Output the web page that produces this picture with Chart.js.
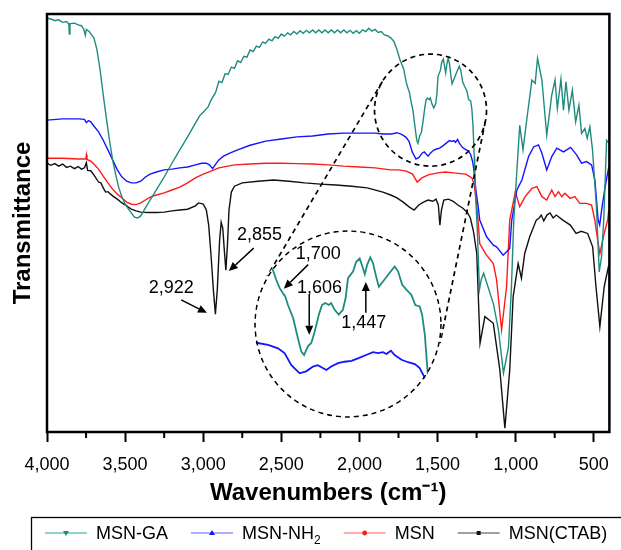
<!DOCTYPE html>
<html>
<head>
<meta charset="utf-8">
<style>
  html, body { margin: 0; padding: 0; background: #fff; }
  #wrap { position: relative; width: 621px; height: 550px; overflow: hidden; }
  #wrap canvas { display: block; }
  #inset { position: absolute; border-radius: 50%; overflow: hidden; background: #fff; }
</style>
</head>
<body>
<div id="wrap">
  <canvas id="ftirChart" width="621" height="550"></canvas>
  <div id="inset"><canvas id="insetChart"></canvas></div>
</div>

<script src="https://cdn.jsdelivr.net/npm/chart.js"></script>
<script>
// FTIR spectra, [wavenumber cm-1, transmittance (arbitrary, 0-100)]
const msnGA = [
  [4000,99.0],[3975,98.8],[3950,98.4],[3925,98.6],[3900,98.0],[3875,98.2],[3860,97.6],[3857,95.2],[3853,97.7],
  [3825,97.8],[3800,97.4],[3780,97.2],[3765,96.4],[3755,94.9],[3748,96.3],[3730,95.8],[3715,95.0],[3700,94.3],
  [3680,91.4],[3660,86.6],[3640,80.6],[3620,75.1],[3600,69.8],[3580,65.1],[3560,61.5],[3540,58.4],[3520,56.2],
  [3500,54.5],[3470,52.9],[3440,51.4],[3420,51.2],[3400,51.7],[3370,53.6],[3340,55.5],[3300,57.9],[3250,61.0],
  [3200,64.3],[3150,67.5],[3100,70.6],[3050,73.9],[3020,75.8],[3000,76.5],[2970,77.7],[2950,79.4],[2920,81.3],
  [2900,83.9],[2880,83.6],[2860,85.7],[2840,85.6],[2820,87.3],[2800,87.0],[2780,88.8],[2760,88.4],[2740,89.9],
  [2720,89.7],[2700,91.4],[2680,91.0],[2660,92.3],[2640,92.0],[2620,93.3],[2600,93.0],[2580,94.0],[2560,93.6],
  [2540,94.6],[2520,94.2],[2500,95.2],[2480,94.7],[2460,95.5],[2440,95.0],[2420,95.8],[2400,95.2],[2380,96.0],
  [2360,95.4],[2340,96.1],[2320,95.5],[2300,96.2],[2280,95.5],[2260,96.2],[2240,95.5],[2220,96.2],[2200,95.5],
  [2180,96.2],[2160,95.5],[2140,96.2],[2120,95.5],[2100,96.2],[2080,95.5],[2060,96.1],[2040,95.4],[2020,96.0],
  [2000,95.4],[1980,96.2],[1960,95.8],[1940,96.6],[1920,95.9],[1900,96.3],[1880,95.6],[1860,95.8],[1840,95.0],
  [1820,94.8],[1800,94.3],[1780,93.5],[1760,91.5],[1740,89.0],
  [1716,86.8],[1706,84.7],[1696,83.0],[1687,82.0],[1680,81.3],[1672,79.5],[1657,76.8],[1643,72.6],[1633,69.8],
  [1625,69.1],[1614,70.9],[1604,71.6],[1594,74.0],[1582,77.5],[1573,79.5],[1563,79.9],[1553,79.5],[1546,79.9],
  [1536,78.5],[1524,77.5],[1512,78.5],[1504,80.9],[1497,85.1],[1482,86.5],[1473,88.5],[1463,89.2],[1455,87.5],
  [1448,85.9],[1441,87.9],[1432,89.4],[1424,88.2],[1414,85.1],[1407,83.3],[1395,84.4],[1380,85.8],[1361,87.5],
  [1351,86.5],[1339,83.7],[1327,82.7],[1312,81.6],[1301,79.5],[1288,79.2],[1281,77.5],[1273,73.3],[1265,65.7],
  [1262,62.9],[1255,55.5],[1245,48.0],[1232,34.0],[1220,36.5],[1205,38.0],[1175,34.5],[1142,30.6],[1110,24.4],
  [1078,14.1],[1046,20.3],[1027,34.7],[1012,50.7],[974,73.4],[953,67.5],[928,75.0],[896,84.2],[875,83.4],
  [860,89.4],[832,84.2],[801,71.0],[769,80.6],[748,84.2],[733,77.4],[710,84.4],[694,77.0],[678,83.8],[659,77.0],
  [637,81.8],[616,74.2],[595,78.2],[578,71.4],[557,72.6],[542,70.3],[525,73.0],[508,67.5],[483,53.9],[465,38.3],
  [450,42.0],[436,50.7],[418,69.8],[404,69.1]
];

const msnNH2 = [
  [4000,74.6],[3900,74.9],[3800,74.9],[3760,74.8],[3748,74.0],[3735,74.5],[3720,74.2],[3700,73.2],[3670,71.8],
  [3640,69.8],[3610,67.5],[3580,65.1],[3550,62.7],[3520,61.0],[3490,60.0],[3460,59.6],[3430,59.6],[3400,60.0],
  [3370,61.0],[3340,61.7],[3300,62.2],[3250,62.7],[3200,62.9],[3150,63.2],[3100,63.4],[3050,63.9],[3010,64.3],
  [2980,64.3],[2960,63.9],[2940,63.0],[2920,64.1],[2900,65.1],[2870,66.0],[2830,66.7],[2780,67.5],[2700,68.6],
  [2600,69.6],[2500,70.1],[2400,70.6],[2300,70.8],[2200,71.3],[2100,71.5],[2000,71.5],[1900,71.5],[1850,71.3],
  [1800,71.3],[1780,71.4],
  [1760,71.6],[1730,71.2],[1701,70.5],[1682,69.5],[1662,67.0],[1638,65.3],[1619,65.7],[1599,66.7],[1585,67.0],
  [1573,66.5],[1560,66.0],[1546,66.7],[1526,67.4],[1507,67.7],[1487,67.9],[1468,68.4],[1448,69.0],[1424,69.7],
  [1409,69.5],[1395,69.7],[1385,69.3],[1372,70.0],[1361,69.1],[1341,68.1],[1322,67.6],[1302,67.2],[1288,66.4],
  [1275,64.6],[1268,62.9],[1255,58.0],[1240,54.0],[1230,50.7],[1186,46.7],[1143,44.7],[1122,44.3],[1080,42.3],
  [1038,43.9],[1025,50.7],[1012,53.5],[992,57.9],[960,60.3],[917,65.9],[885,68.2],[854,68.7],[832,66.7],
  [801,62.7],[769,65.9],[737,67.9],[694,67.0],[648,68.1],[610,66.3],[578,64.3],[546,64.7],[514,63.9],[493,60.3],
  [472,50.7],[462,49.5],[450,53.0],[430,58.0],[404,63.4]
];

const msn = [
  [4000,65.5],[3900,65.5],[3800,65.3],[3752,65.3],[3748,66.3],[3744,65.2],[3720,64.8],[3700,64.1],[3670,62.9],
  [3640,61.2],[3610,59.6],[3580,58.1],[3550,56.9],[3520,56.0],[3490,55.0],[3460,54.5],[3430,54.4],[3400,54.8],
  [3370,55.5],[3340,56.2],[3300,56.7],[3250,57.2],[3200,57.9],[3150,58.6],[3100,59.6],[3050,60.8],[3000,61.7],
  [2950,62.4],[2900,63.2],[2800,63.9],[2700,64.1],[2600,64.3],[2500,64.3],[2400,64.2],[2300,64.1],[2200,63.9],
  [2100,63.6],[2000,63.4],[1900,63.2],[1800,62.7],[1750,62.7],[1700,62.4],[1660,61.7],[1630,59.8],[1600,60.8],
  [1560,61.5],[1500,62.0],[1450,62.2],[1400,62.0],[1320,61.7],[1280,60.8],[1265,59.1],[1250,54.3],[1240,50.2],
  [1230,45.1],[1190,42.5],[1143,40.3],[1122,36.4],[1090,24.4],[1058,34.8],[1038,50.7],[1023,53.5],[1002,57.5],
  [974,53.9],[939,56.3],[896,58.3],[864,58.7],[832,56.3],[801,55.5],[769,57.9],[748,56.3],[726,57.5],[705,56.3],
  [684,57.1],[652,55.9],[621,56.3],[589,54.7],[546,54.7],[514,54.3],[493,50.7],[475,45.9],[461,42.7],[433,47.5],
  [411,50.7],[404,53.1]
];

const msnCTAB = [
  [4000,64.3],[3975,63.8],[3950,64.2],[3925,63.6],[3900,64.1],[3875,63.3],[3850,63.6],[3825,63.0],[3800,63.5],
  [3780,62.9],[3760,63.2],[3748,64.4],[3740,62.6],[3720,62.5],[3700,61.5],[3670,59.8],[3655,59.6],[3640,58.4],
  [3625,57.4],[3610,57.5],[3580,56.5],[3550,55.7],[3520,54.8],[3490,54.1],[3460,53.3],[3430,52.9],[3400,52.6],
  [3350,52.5],[3300,52.5],[3250,52.6],[3200,52.9],[3150,53.1],[3100,53.3],[3050,54.1],[3030,54.8],[3000,54.5],
  [2980,53.1],[2965,49.5],[2950,42.3],[2935,34.0],[2922,28.2],[2910,34.0],[2895,45.9],[2885,50.2],[2875,48.8],
  [2865,43.5],[2855,38.7],[2845,44.7],[2835,53.1],[2820,57.4],[2800,58.8],[2750,59.6],[2650,60.0],[2550,60.3],
  [2450,60.0],[2350,59.6],[2250,59.3],[2150,59.1],[2050,58.8],[1950,58.4],[1850,57.4],[1800,56.7],[1760,56.0],
  [1720,55.0],[1680,53.8],[1650,53.1],[1620,54.3],[1590,55.0],[1560,55.5],[1530,55.2],[1510,55.7],[1495,54.3],
  [1485,49.5],[1475,53.1],[1460,55.5],[1430,55.7],[1400,55.2],[1370,54.3],[1340,53.6],[1310,52.6],[1290,51.2],
  [1270,48.0],[1249,42.7],[1228,21.2],[1197,27.6],[1143,26.0],[1101,14.8],[1069,0.9],[1038,14.8],[1016,32.4],
  [984,40.3],[963,36.8],[942,42.7],[910,46.7],[868,50.7],[850,51.2],[836,51.9],[820,50.5],[800,51.9],[780,52.4],
  [760,51.2],[740,51.9],[698,50.7],[650,49.5],[613,47.5],[580,48.0],[539,47.5],[507,44.3],[486,34.8],[461,25.2],
  [433,34.8],[411,38.7],[404,39.9]
];

const seriesNames = ['MSN-GA', 'MSN-NH2', 'MSN', 'MSN(CTAB)'];
const xRange = [400, 4000];
const yRange = [0, 100];

// peak labels: text position, arrow tail, arrow tip  [wavenumber, transmittance]
const mainPeaks = [
  { text: '2,922', at: [3205, 34.4], from: [3141, 31.6], to: [2976, 28.5] },
  { text: '2,855', at: [2639, 47.1], from: [2677, 44.0], to: [2836, 38.5] }
];
const insetPeaks = [
  { text: '1,700', at: [1584, 90.2], from: [1613, 87.9], to: [1684, 82.9] },
  { text: '1,606', at: [1580, 83.1], from: [1610, 81.8], to: [1610, 73.3] },
  { text: '1,447', at: [1451, 75.8], from: [1445, 77.9], to: [1445, 84.3] }
];

// zoom: small circle on the main plot and the magnified inset
const zoomCentre = [1545, 77.0];
const insetCentre = [2073, 25.8];
const insetWave = [1223, 1771];
const insetT = [56.0, 95.1];

const colors = ['#1f8b7f', '#1414ff', '#ff1a1a', '#111111'];
const lightColors = ['#8fd3ca', '#adadff', '#ffadad', '#a0a0a0'];
const FONT = "'Liberation Sans', Arial, sans-serif";

const toXY = arr => arr.map(p => ({ x: p[0], y: p[1] }));

function arrow(ctx, x1, y1, x2, y2) {
    const a = Math.atan2(y2 - y1, x2 - x1), L = 9, W = 4;
    const bx = x2 - L * Math.cos(a), by = y2 - L * Math.sin(a);
    ctx.beginPath(); ctx.moveTo(x1, y1); ctx.lineTo(bx, by); ctx.stroke();
    ctx.beginPath(); ctx.moveTo(x2, y2);
    ctx.lineTo(bx + W * Math.sin(a), by - W * Math.cos(a));
    ctx.lineTo(bx - W * Math.sin(a), by + W * Math.cos(a));
    ctx.closePath(); ctx.fill();
}

function drawPeaks(chart, peaks) {
    const ctx = chart.ctx, xs = chart.scales.x, ys = chart.scales.y;
    const px = p => [xs.getPixelForValue(p[0]), ys.getPixelForValue(p[1])];
    ctx.save();
    ctx.fillStyle = '#000'; ctx.strokeStyle = '#000'; ctx.lineWidth = 1.5;
    ctx.font = '18px ' + FONT; ctx.textAlign = 'center'; ctx.textBaseline = 'middle';
    peaks.forEach(pk => {
        const t = px(pk.at), f = px(pk.from), e = px(pk.to);
        ctx.fillText(pk.text, t[0], t[1]);
        arrow(ctx, f[0], f[1], e[0], e[1]);
    });
    ctx.restore();
}

function marker(ctx, kind, x, y, color) {
    ctx.fillStyle = color;
    ctx.beginPath();
    if (kind === 0) { ctx.moveTo(x - 3, y - 2); ctx.lineTo(x + 3, y - 2); ctx.lineTo(x, y + 3); }
    else if (kind === 1) { ctx.moveTo(x - 3, y + 2); ctx.lineTo(x + 3, y + 2); ctx.lineTo(x, y - 3); }
    else if (kind === 2) { ctx.arc(x, y, 2.4, 0, Math.PI * 2); }
    else { ctx.rect(x - 2, y - 2, 4, 4); }
    ctx.fill();
}

const decor = {
    id: 'decor',
    afterDraw(chart) {
        const ctx = chart.ctx, a = chart.chartArea, xs = chart.scales.x, ys = chart.scales.y;
        ctx.save();
        // frame
        ctx.strokeStyle = '#000'; ctx.lineWidth = 2.5;
        ctx.strokeRect(a.left, a.top, a.right - a.left, a.bottom - a.top);
        // minor ticks
        ctx.lineWidth = 2;
        xs.ticks.forEach(t => {
            if (t.value % 500 !== 0) {
                const x = xs.getPixelForValue(t.value);
                ctx.beginPath(); ctx.moveTo(x, a.bottom); ctx.lineTo(x, a.bottom + 6); ctx.stroke();
            }
        });
        // zoom circle and tangent lines to the inset
        const c1 = [xs.getPixelForValue(zoomCentre[0]), ys.getPixelForValue(zoomCentre[1])], r1 = 56;
        const c2 = [xs.getPixelForValue(insetCentre[0]), ys.getPixelForValue(insetCentre[1])], r2 = 94;
        ctx.setLineDash([5, 4]); ctx.lineWidth = 1.7;
        ctx.beginPath(); ctx.arc(c1[0], c1[1], r1, 0, Math.PI * 2); ctx.stroke();
        const dx = c2[0] - c1[0], dy = c2[1] - c1[1], D = Math.hypot(dx, dy);
        const ux = dx / D, uy = dy / D, cs = (r1 - r2) / D, sn = Math.sqrt(1 - cs * cs);
        [[ux * cs - uy * sn, ux * sn + uy * cs], [ux * cs + uy * sn, -ux * sn + uy * cs]].forEach(n => {
            ctx.beginPath();
            ctx.moveTo(c1[0] + r1 * n[0], c1[1] + r1 * n[1]);
            ctx.lineTo(c2[0] + r2 * n[0], c2[1] + r2 * n[1]);
            ctx.stroke();
        });
        ctx.setLineDash([]);
        ctx.restore();

        drawPeaks(chart, mainPeaks);

        // legend
        ctx.save();
        ctx.strokeStyle = '#000'; ctx.lineWidth = 1.3;
        ctx.strokeRect(31.5, 517.5, 650, 60);
        ctx.font = '18px ' + FONT; ctx.textBaseline = 'middle'; ctx.textAlign = 'left';
        let x = 45;
        const y = 533;
        seriesNames.forEach((name, i) => {
            ctx.strokeStyle = lightColors[i]; ctx.lineWidth = 2;
            ctx.beginPath(); ctx.moveTo(x, y); ctx.lineTo(x + 42, y); ctx.stroke();
            marker(ctx, i, x + 21, y, colors[i]);
            ctx.fillStyle = '#000';
            let tx = x + 51;
            if (name === 'MSN-NH2') {
                ctx.fillText('MSN-NH', tx, y + 1);
                tx += ctx.measureText('MSN-NH').width;
                ctx.font = '12px ' + FONT;
                ctx.fillText('2', tx, y + 8);
                tx += ctx.measureText('2').width;
                ctx.font = '18px ' + FONT;
            } else {
                ctx.fillText(name, tx, y + 1);
                tx += ctx.measureText(name).width;
            }
            x = tx + 23;
        });
        ctx.restore();
    }
};

const mainChart = new Chart(document.getElementById('ftirChart'), {
    type: 'line',
    data: {
        datasets: [msnGA, msnNH2, msn, msnCTAB].map((d, i) => ({
            label: seriesNames[i],
            data: toXY(d),
            borderColor: colors[i],
            borderWidth: 1.4,
            pointRadius: 0,
            tension: 0,
            fill: false
        }))
    },
    options: {
        responsive: false,
        animation: false,
        devicePixelRatio: 1,
        layout: { padding: { left: 0, right: 8, top: 14, bottom: 0 } },
        plugins: { legend: { display: false }, tooltip: { enabled: false } },
        scales: {
            x: {
                type: 'linear',
                reverse: true,
                min: xRange[0],
                max: xRange[1],
                afterFit: s => { s.height = 118; },
                border: { display: false },
                grid: {
                    drawOnChartArea: false,
                    drawTicks: true,
                    tickLength: 10,
                    tickWidth: 2,
                    tickColor: c => (c.tick && c.tick.value % 500 === 0) ? '#000' : 'rgba(0,0,0,0)'
                },
                ticks: {
                    stepSize: 250,
                    includeBounds: false,
                    autoSkip: false,
                    maxRotation: 0,
                    padding: 12,
                    color: '#000',
                    font: { family: FONT, size: 18 },
                    callback: v => v % 500 === 0 ? v.toLocaleString('en-US') : ''
                },
                title: {
                    display: true,
                    text: 'Wavenumbers (cm\u207B\u00B9)',
                    color: '#000',
                    font: { family: FONT, size: 24, weight: 'bold' },
                    padding: { top: 0, bottom: 42 }
                }
            },
            y: {
                min: yRange[0],
                max: yRange[1],
                afterFit: s => { s.width = 47; },
                border: { display: false },
                grid: { display: false },
                ticks: { display: false },
                title: {
                    display: true,
                    text: 'Transmittance',
                    color: '#000',
                    font: { family: FONT, size: 24, weight: 'bold' },
                    padding: { top: 9, bottom: 0 }
                }
            }
        }
    },
    plugins: [decor]
});

// magnified inset inside the dashed circle
const R = 94;
const cx = mainChart.scales.x.getPixelForValue(insetCentre[0]);
const cy = mainChart.scales.y.getPixelForValue(insetCentre[1]);
const insetDiv = document.getElementById('inset');
insetDiv.style.left = (cx - R) + 'px';
insetDiv.style.top = (cy - R) + 'px';
insetDiv.style.width = (2 * R) + 'px';
insetDiv.style.height = (2 * R) + 'px';
const insetCanvas = document.getElementById('insetChart');
insetCanvas.width = 2 * R;
insetCanvas.height = 2 * R;

const insetDecor = {
    id: 'insetDecor',
    afterDraw(chart) {
        const ctx = chart.ctx;
        ctx.save();
        ctx.strokeStyle = '#000'; ctx.lineWidth = 1.6; ctx.setLineDash([5, 4]);
        ctx.beginPath(); ctx.arc(R, R, R - 1, 0, Math.PI * 2); ctx.stroke();
        ctx.restore();
        drawPeaks(chart, insetPeaks);
    }
};

new Chart(insetCanvas, {
    type: 'line',
    data: {
        datasets: [msnGA, msnNH2].map((d, i) => ({
            data: toXY(d),
            borderColor: colors[i],
            borderWidth: 1.8,
            pointRadius: 0,
            tension: 0,
            fill: false
        }))
    },
    options: {
        responsive: false,
        animation: false,
        devicePixelRatio: 1,
        layout: { padding: 0 },
        plugins: { legend: { display: false }, tooltip: { enabled: false } },
        scales: {
            x: { type: 'linear', reverse: true, min: insetWave[0], max: insetWave[1], display: false },
            y: { min: insetT[0], max: insetT[1], display: false }
        }
    },
    plugins: [insetDecor]
});
</script>
</body>
</html>
